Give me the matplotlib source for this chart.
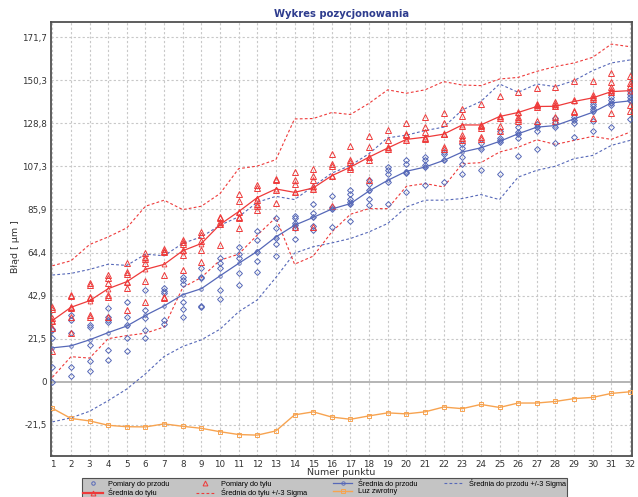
import matplotlib
matplotlib.use("Agg")
import matplotlib.pyplot as plt
from matplotlib.lines import Line2D

# numer punktu
punkty = list(range(1, 33))

pomiary_przod = [
    [26.5, 25.8, 21.7, 7.6, 0.1],
    [33.3, 30.8, 24.2, 7.3, 3.0],
    [28.3, 27.5, 18.4, 10.1, 5.6],
    [36.6, 32.5, 30.8, 30.0, 15.9, 10.6],
    [39.9, 32.5, 28.3, 21.7, 15.1],
    [45.7, 35.8, 31.7, 25.8, 21.7],
    [46.6, 45.4, 44.4, 30.8, 28.8],
    [52.3, 50.7, 48.7, 39.9, 36.1, 32.2],
    [56.5, 52.3, 51.5, 37.8, 37.1],
    [61.5, 59.0, 56.5, 45.7, 41.3],
    [67.2, 63.6, 61.5, 54.3, 48.2],
    [75.2, 70.9, 64.8, 60.3, 54.8],
    [81.4, 76.4, 71.9, 68.9, 62.8],
    [82.5, 81.4, 79.2, 78.0, 76.4, 71.4],
    [88.5, 84.1, 82.2, 77.5, 75.5],
    [92.4, 87.1, 86.3, 77.2],
    [95.8, 93.8, 91.3, 89.6, 88.5, 80.2],
    [100.7, 98.4, 95.8, 91.3, 88.0],
    [107.0, 105.4, 103.4, 99.6, 88.8],
    [110.7, 108.7, 104.5, 104.0, 94.6],
    [112.0, 110.3, 107.8, 107.0, 97.9],
    [114.5, 113.7, 110.7, 99.6],
    [118.6, 116.6, 112.0, 108.7, 103.4],
    [119.0, 116.1, 105.4],
    [125.2, 121.6, 120.3, 119.4, 103.7],
    [126.9, 124.4, 123.3, 121.6, 112.3],
    [128.6, 126.9, 125.2, 116.1],
    [131.5, 129.4, 126.9, 118.9],
    [132.2, 130.6, 128.9, 121.9],
    [138.2, 137.2, 136.0, 134.8, 130.2, 125.2],
    [141.8, 140.2, 138.8, 137.7, 127.2],
    [145.1, 143.5, 141.8, 140.2, 131.0],
]

# pomiary do tylu
pomiary_tyl = [
    [37.4, 36.2, 31.6, 30.5, 26.7, 15.1],
    [43.2, 42.5, 37.4, 36.6, 32.5, 24.2],
    [49.1, 48.2, 42.4, 41.6, 33.3, 32.5],
    [53.2, 51.5, 49.1, 43.2, 42.4, 32.5],
    [59.0, 54.8, 53.7, 49.8, 46.6, 35.8],
    [64.0, 62.0, 61.0, 59.0, 50.3, 39.9],
    [66.4, 65.3, 64.8, 53.2, 42.4, 41.6],
    [70.9, 69.7, 68.6, 65.6, 63.1, 55.7],
    [74.7, 73.1, 70.2, 65.6, 59.8],
    [82.2, 81.4, 79.7, 78.5, 68.1],
    [93.8, 90.1, 84.6, 81.9, 81.4, 76.4],
    [97.9, 96.8, 90.8, 88.8, 87.5, 85.5],
    [101.2, 100.4, 95.8, 89.1],
    [104.5, 100.4, 98.8, 94.6, 77.2],
    [106.2, 102.4, 100.4, 97.4, 96.3, 77.2],
    [113.7, 108.3, 107.4, 102.4, 87.5],
    [117.3, 110.7, 109.5, 107.0, 106.2],
    [122.3, 116.9, 112.0, 110.7, 100.7],
    [125.6, 120.6, 116.9, 116.1],
    [128.9, 123.6, 122.8, 120.6],
    [131.9, 126.9, 124.4, 121.6, 121.1],
    [133.8, 128.9, 123.6, 123.3, 116.9, 116.1],
    [136.0, 132.7, 127.7, 122.8, 121.6, 120.6],
    [138.5, 128.2, 127.4, 126.6, 121.9, 120.8],
    [142.6, 132.7, 131.5, 127.7, 125.2],
    [144.3, 134.3, 131.9, 131.1, 130.2],
    [146.5, 138.5, 137.7, 136.8, 130.2],
    [147.1, 139.3, 138.5, 137.2, 132.2, 130.2],
    [149.8, 140.2, 135.2, 134.3],
    [150.1, 143.1, 141.8, 141.0, 131.5],
    [153.7, 149.3, 146.8, 145.5, 144.3, 133.8],
    [152.6, 148.8, 147.6, 137.7, 135.2],
]

srednia_przod = [16.9, 17.9, 20.9, 24.5, 27.8, 33.1, 37.8, 43.4, 46.4, 52.8, 59.0,
                 65.0, 72.2, 78.0, 81.9, 86.1, 88.8, 95.1, 100.4, 104.9, 107.0,
                 110.3, 114.5, 116.6, 119.8, 123.6, 126.9, 127.7, 131.0, 134.3,
                 139.0, 140.0]
srednia_tyl = [30.5, 37.1, 40.4, 46.4, 49.9, 56.0, 58.5, 65.3, 68.9, 78.4, 84.8,
               91.8, 96.1, 94.4, 96.6, 102.7, 107.0, 112.0, 116.5, 120.8, 121.9,
               123.4, 128.0, 128.0, 132.2, 134.2, 137.2, 137.3, 139.7, 141.5,
               144.6, 145.1]

przod_plus3s = [53.2, 54.0, 56.0, 58.6, 58.0, 63.6, 62.8, 69.0, 72.2, 78.0, 82.2,
                89.5, 92.4, 90.8, 97.4, 104.0, 107.8, 113.7, 121.6, 122.9, 125.2,
                126.9, 135.5, 139.7, 148.4, 144.3, 148.4, 147.1, 150.1, 155.1,
                158.9, 160.4]
przod_minus3s = [-20.0, -18.0, -14.7, -9.4, -3.6, 4.0, 12.6, 17.6, 20.9, 26.2, 34.9,
                 40.8, 52.0, 64.1, 67.3, 69.2, 71.4, 74.7, 78.9, 87.1, 90.5,
                 90.5, 91.3, 93.3, 90.8, 102.0, 105.4, 107.4, 111.2, 112.8,
                 117.8, 120.3]
tyl_plus3s = [57.8, 60.3, 68.4, 72.2, 76.7, 87.5, 90.5, 85.8, 87.5, 93.8, 106.2,
              107.5, 110.7, 131.0, 131.2, 134.2, 133.2, 138.8, 145.5, 143.8, 145.5,
              149.6, 147.9, 147.6, 150.9, 151.7, 154.7, 157.1, 158.9, 161.7,
              168.3, 167.0]
tyl_minus3s = [2.2, 12.5, 11.8, 21.5, 23.0, 24.2, 27.3, 47.0, 52.0, 60.6, 63.6,
               73.1, 81.9, 58.6, 62.6, 74.7, 83.5, 86.3, 86.3, 97.4, 98.8,
               97.1, 108.7, 109.2, 114.5, 116.9, 120.6, 118.3, 120.3, 122.3,
               120.8, 124.4]

luz_zwrotny = [-13.2, -18.3, -19.5, -21.7, -22.4, -22.5, -21.0, -22.2, -23.2, -24.9,
               -26.3, -26.6, -24.5, -16.5, -15.0, -17.6, -18.7, -17.0, -15.5, -16.0,
               -15.0, -12.6, -13.4, -11.3, -12.8, -10.6, -10.6, -9.8, -8.4, -7.8,
               -5.8, -5.0]

yticks = [171.7, 150.3, 128.8, 107.3, 85.9, 64.4, 42.9, 21.5, 0, -21.5]
ytick_labels = ["171,7", "150,3", "128,8", "107,3", "85,9", "64,4", "42,9", "21,5", "0", "-21,5"]

NIEBIESKI = "#5668B8"
CZERWONY = "#EE3A3A"
POMARANCZ = "#F7A350"

plt.rcParams["font.family"] = ["DejaVu Sans"]

fig = plt.figure(figsize=(6.38, 4.97), dpi=100)
ax = fig.add_axes([0.0795, 0.0825, 0.9105, 0.874])

# siatka
for y in yticks:
    if y == 0:
        ax.axhline(0, color="#A8A8A8", lw=1.2, zorder=1)
    else:
        ax.axhline(y, color="#C8C8C8", lw=0.8, ls=(0, (2, 2)), zorder=1)
for x in punkty:
    ax.axvline(x, color="#C8C8C8", lw=0.8, ls=(0, (2, 2)), zorder=1)

# pomiary
for x, vals in zip(punkty, pomiary_przod):
    ax.plot([x] * len(vals), vals, ls="none", marker="D", ms=3.0, mfc="none",
            mec=NIEBIESKI, mew=0.7, zorder=3)
for x, vals in zip(punkty, pomiary_tyl):
    ax.plot([x] * len(vals), vals, ls="none", marker="^", ms=4.2, mfc="none",
            mec=CZERWONY, mew=0.7, zorder=3)

# srednie i sigma
ax.plot(punkty, przod_plus3s, color=NIEBIESKI, lw=0.8, ls=(0, (2.5, 2)), zorder=2)
ax.plot(punkty, przod_minus3s, color=NIEBIESKI, lw=0.8, ls=(0, (2.5, 2)), zorder=2)
ax.plot(punkty, tyl_plus3s, color=CZERWONY, lw=0.8, ls=(0, (2.5, 2)), zorder=2)
ax.plot(punkty, tyl_minus3s, color=CZERWONY, lw=0.8, ls=(0, (2.5, 2)), zorder=2)
ax.plot(punkty, srednia_przod, color=NIEBIESKI, lw=0.9, marker="o", ms=2.5,
        mfc="none", mew=0.6, zorder=4)
ax.plot(punkty, srednia_tyl, color=CZERWONY, lw=0.9, marker="^", ms=3.5,
        mfc="none", mew=0.6, zorder=4)
ax.plot(punkty, luz_zwrotny, color=POMARANCZ, lw=1.0, marker="s", ms=3.0,
        mfc="none", mew=0.7, zorder=4)

ax.set_xlim(0.914, 32.09)
ax.set_ylim(-37.0, 179.5)
ax.set_xticks(punkty)
ax.set_xticklabels([str(p) for p in punkty])
ax.set_yticks(yticks)
ax.set_yticklabels(ytick_labels)
ax.tick_params(axis="both", labelsize=6.3, colors="#333333", length=0, pad=3)

for s in ax.spines.values():
    s.set_color("#505050")
    s.set_linewidth(1.3)

ax.set_xlabel("Numer punktu", fontsize=6.8, color="#333333", labelpad=-0.5)
ax.set_ylabel("Błąd [ µm ]", fontsize=6.8, color="#333333")
ax.yaxis.set_label_coords(-0.053, 0.481)
fig.text(0.535, 0.972, "Wykres pozycjonowania", ha="center", va="center",
         fontsize=7.2, fontweight="bold", color="#2E3C8E")

# legenda
h_pp = Line2D([], [], ls="none", marker="o", ms=2.5, mfc="none", mec=NIEBIESKI, mew=0.7)
h_pt = Line2D([], [], ls="none", marker="^", ms=3.5, mfc="none", mec=CZERWONY, mew=0.7)
h_sp = Line2D([], [], color=NIEBIESKI, lw=0.9, marker="o", ms=2.5, mfc="none", mew=0.6)
h_sps = Line2D([], [], color=NIEBIESKI, lw=0.8, ls=(0, (2.5, 2)))
h_st = Line2D([], [], color=CZERWONY, lw=1.6, marker="^", ms=3.5, mfc="none", mew=0.7)
h_sts = Line2D([], [], color=CZERWONY, lw=0.8, ls=(0, (2.5, 2)))
h_luz = Line2D([], [], color=POMARANCZ, lw=1.0, marker="s", ms=2.8, mfc="none", mew=0.7)

uchwyty = [h_pp, h_st, h_pt, h_sts, h_sp, h_luz, h_sps]
etykiety = ["Pomiary do przodu", "Średnia do tyłu", "Pomiary do tyłu",
            "Średnia do tyłu +/-3 Sigma", "Średnia do przodu", "Luz zwrotny",
            "Średnia do przodu +/-3 Sigma"]
leg = fig.legend(uchwyty, etykiety, ncol=4, loc="upper left", mode="expand",
                 bbox_to_anchor=(82 / 638, 19.5 / 497, 485 / 638, 0),
                 prop={"family": "Liberation Sans", "size": 5.3}, frameon=True,
                 fancybox=False, facecolor="#C4C4C4", edgecolor="#505050",
                 handlelength=2.6, labelspacing=0.02, borderpad=0.2,
                 handletextpad=0.8, borderaxespad=0)
leg.get_frame().set_linewidth(0.8)
leg.get_frame().set_alpha(1)

fig.savefig("out.png", dpi=100)
